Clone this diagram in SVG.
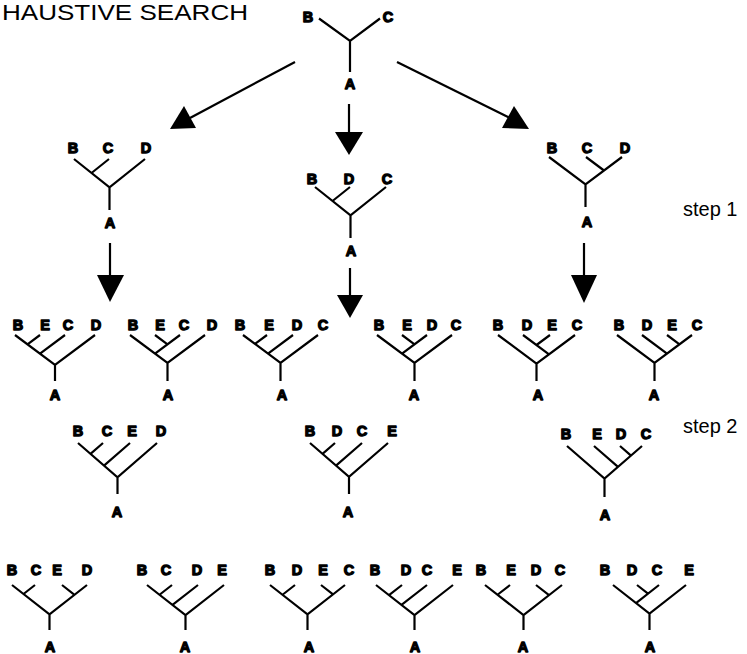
<svg xmlns="http://www.w3.org/2000/svg" width="747" height="654" viewBox="0 0 747 654">
<style>
.e{stroke:#000;stroke-width:2.2;fill:none}
.l{font-family:"Liberation Sans",Arial,sans-serif;font-weight:bold;font-size:14.5px;text-anchor:middle;fill:#000;stroke:#000;stroke-width:1.3;stroke-linejoin:round}
.t{font-family:"Liberation Sans",Arial,sans-serif;font-size:20px;fill:#000}
.ah{fill:#000}
</style>
<rect width="747" height="654" fill="#fff"/>
<text x="2" y="20" font-family="Liberation Sans, Arial, sans-serif" font-size="22" textLength="246" lengthAdjust="spacingAndGlyphs">HAUSTIVE SEARCH</text>
<text class="t" x="683" y="216">step 1</text>
<text class="t" x="683" y="433">step 2</text>

<g id="connectors">
<line class="e" x1="295" y1="62" x2="190" y2="118"/>
<polygon class="ah" points="170,129 184,106 196,128"/>
<line class="e" x1="349" y1="104" x2="349" y2="133"/>
<polygon class="ah" points="335,132 363,132 349,155"/>
<line class="e" x1="397" y1="62" x2="510" y2="118"/>
<polygon class="ah" points="529,129 514,106 502,128"/>
<line class="e" x1="110" y1="243" x2="110" y2="276"/>
<polygon class="ah" points="97,275 124,275 110,302"/>
<line class="e" x1="350" y1="268" x2="350" y2="296"/>
<polygon class="ah" points="337,295 363,295 350,318"/>
<line class="e" x1="584" y1="243" x2="584" y2="276"/>
<polygon class="ah" points="571,275 597,275 584,303"/>
</g>

<g id="tree-root">
<text class="l" x="308" y="22">B</text><text class="l" x="388" y="22">C</text>
<path class="e" d="M319,18.5 L350,41 L380,18.5 M350,41 V72"/>
<text class="l" x="350" y="89">A</text>
</g>

<g id="s1-left">
<text class="l" x="73" y="153">B</text><text class="l" x="108" y="153">C</text><text class="l" x="146" y="153">D</text>
<path class="e" d="M74,159 L109.5,187.4 L145,159 M109,159 L91.5,173 M109.5,187.4 V210"/>
<text class="l" x="110" y="228">A</text>
</g>
<g id="s1-mid">
<text class="l" x="312" y="184">B</text><text class="l" x="349" y="184">D</text><text class="l" x="387" y="184">C</text>
<path class="e" d="M315,187 L350.5,215.4 L386,187 M350,187 L332.5,201 M350.5,215.4 V238"/>
<text class="l" x="351" y="256">A</text>
</g>
<g id="s1-right">
<text class="l" x="552" y="153">B</text><text class="l" x="587" y="153">C</text><text class="l" x="625" y="153">D</text>
<path class="e" d="M549,157 L585.5,184.4 L622,157 M586,157 L604,170.5 M585.5,184.4 V207"/>
<text class="l" x="587" y="227">A</text>
</g>

<g id="r1-t1">
<text class="l" x="18" y="330">B</text><text class="l" x="45" y="330">E</text><text class="l" x="68" y="330">C</text><text class="l" x="96" y="330">D</text>
<path class="e" d="M15,335 L55,364.8 L95,335 M40,335 L27.5,344.3 M65,335 L40,353.6 M55,364.8 V381"/>
<text class="l" x="55" y="400">A</text>
</g>
<g id="r1-t2">
<text class="l" x="133" y="330">B</text><text class="l" x="160" y="330">E</text><text class="l" x="184" y="330">C</text><text class="l" x="212" y="330">D</text>
<path class="e" d="M130,335 L167.5,362.9 L205,335 M180,335 L155,353.6 M155,335 L167.5,344.3 M167.5,362.9 V381"/>
<text class="l" x="168" y="400">A</text>
</g>
<g id="r1-t3">
<text class="l" x="240" y="330">B</text><text class="l" x="269" y="330">E</text><text class="l" x="297" y="330">D</text><text class="l" x="323" y="330">C</text>
<path class="e" d="M243,335 L280.5,362.9 L318,335 M267,335 L255,343.9 M293,335 L268,353.6 M280.5,362.9 V381"/>
<text class="l" x="282" y="400">A</text>
</g>
<g id="r1-t4">
<text class="l" x="379" y="330">B</text><text class="l" x="407" y="330">E</text><text class="l" x="432" y="330">D</text><text class="l" x="456" y="330">C</text>
<path class="e" d="M377,335 L414.5,362.9 L452,335 M427,335 L402,353.6 M402,335 L414.5,344.3 M414.5,362.9 V381"/>
<text class="l" x="414" y="400">A</text>
</g>
<g id="r1-t5">
<text class="l" x="498" y="330">B</text><text class="l" x="527" y="330">D</text><text class="l" x="552" y="330">E</text><text class="l" x="577" y="330">C</text>
<path class="e" d="M498,335 L536.5,363.6 L575,335 M523,335 L549,354.3 M550,335 L536.5,345 M536.5,363.6 V381"/>
<text class="l" x="538" y="400">A</text>
</g>
<g id="r1-t6">
<text class="l" x="619" y="330">B</text><text class="l" x="647" y="330">D</text><text class="l" x="672" y="330">E</text><text class="l" x="697" y="330">C</text>
<path class="e" d="M617,335 L654.5,362.9 L692,335 M642,335 L667,353.6 M667,335 L679.5,344.3 M654.5,362.9 V381"/>
<text class="l" x="654" y="400">A</text>
</g>

<g id="s2-t1">
<text class="l" x="78" y="436">B</text><text class="l" x="107" y="436">C</text><text class="l" x="132" y="436">E</text><text class="l" x="161" y="436">D</text>
<path class="e" d="M78,443 L117.5,477.4 L157,443 M103,443 L90.5,453.9 M130,443 L104,465.6 M117.5,477.4 V494"/>
<text class="l" x="117" y="517">A</text>
</g>
<g id="s2-t2">
<text class="l" x="310" y="436">B</text><text class="l" x="337" y="436">D</text><text class="l" x="362" y="436">C</text><text class="l" x="392" y="436">E</text>
<path class="e" d="M310,443 L349,476.9 L388,443 M335,443 L322.5,453.9 M362,443 L336,465.6 M349,476.9 V494"/>
<text class="l" x="348" y="517">A</text>
</g>
<g id="s2-t3">
<text class="l" x="566" y="439">B</text><text class="l" x="597" y="439">E</text><text class="l" x="621" y="439">D</text><text class="l" x="646" y="439">C</text>
<path class="e" d="M567,446 L604.5,478.6 L642,446 M594,446 L618,466.9 M620,446 L631,455.6 M604.5,478.6 V497"/>
<text class="l" x="605" y="520">A</text>
</g>

<g id="f-t1">
<text class="l" x="12" y="575">B</text><text class="l" x="36" y="575">C</text><text class="l" x="57" y="575">E</text><text class="l" x="87" y="575">D</text>
<path class="e" d="M12,585 L49.5,614.3 L87,585 M35,585 L23.5,594 M62,585 L74.5,594.8 M49.5,614.3 V630"/>
<text class="l" x="50" y="652">A</text>
</g>
<g id="f-t2">
<text class="l" x="142" y="575">B</text><text class="l" x="166" y="575">C</text><text class="l" x="197" y="575">D</text><text class="l" x="222" y="575">E</text>
<path class="e" d="M147,585 L185.5,615 L224,585 M172,585 L159.5,594.75 M198,585 L172.5,604.9 M185.5,615 V630"/>
<text class="l" x="185" y="652">A</text>
</g>
<g id="f-t3">
<text class="l" x="270" y="575">B</text><text class="l" x="297" y="575">D</text><text class="l" x="323" y="575">E</text><text class="l" x="349" y="575">C</text>
<path class="e" d="M270,585 L307.5,614.25 L345,585 M295,585 L282.5,594.75 M321,585 L333,594.4 M307.5,614.25 V630"/>
<text class="l" x="309" y="652">A</text>
</g>
<g id="f-t4">
<text class="l" x="375" y="575">B</text><text class="l" x="406" y="575">D</text><text class="l" x="427" y="575">C</text><text class="l" x="457" y="575">E</text>
<path class="e" d="M376,585 L414.5,615 L453,585 M402,585 L389,595.1 M427,585 L401.5,604.9 M414.5,615 V630"/>
<text class="l" x="415" y="652">A</text>
</g>
<g id="f-t5">
<text class="l" x="481" y="575">B</text><text class="l" x="511" y="575">E</text><text class="l" x="536" y="575">D</text><text class="l" x="560" y="575">C</text>
<path class="e" d="M485,585 L523.5,615 L562,585 M510,585 L497.5,594.75 M536,585 L549,595.1 M523.5,615 V630"/>
<text class="l" x="523" y="652">A</text>
</g>
<g id="f-t6">
<text class="l" x="605" y="575">B</text><text class="l" x="632" y="575">D</text><text class="l" x="657" y="575">C</text><text class="l" x="689" y="575">E</text>
<path class="e" d="M613,585 L649.5,613.5 L686,585 M637,585 L648,593.6 M659,585 L636,603.2 M649.5,613.5 V630"/>
<text class="l" x="650" y="652">A</text>
</g>
</svg>
